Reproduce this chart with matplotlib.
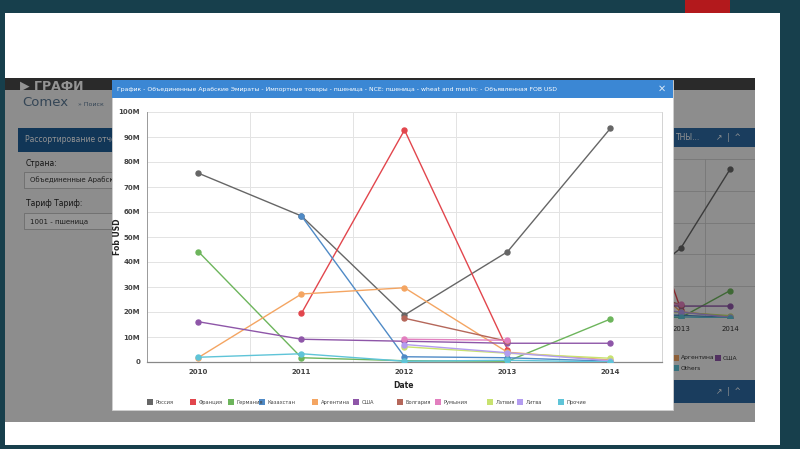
import matplotlib
matplotlib.use('Agg')
import matplotlib.pyplot as plt
from matplotlib.patches import Rectangle
import numpy as np

plt.rcParams['font.family'] = ['DejaVu Sans']

# data (values in millions of USD, nan = no data)
years = [2010, 2011, 2012, 2013, 2014]
countries = ['Россия', 'Франция', 'Германия', 'Казахстан', 'Аргентина', 'США',
             'Болгария', 'Румыния', 'Латвия', 'Литва', 'Прочие']
russia = [75.5, 58.4, 18.8, 44.1, 93.5]
france = [np.nan, 19.5, 92.8, 5.0, np.nan]
germany = [44.1, 1.7, 0.5, 0.3, 17.2]
kazakhstan = [np.nan, 58.4, 2.1, 1.7, 0.3]
argentina = [1.8, 27.2, 29.7, 3.9, 0.8]
usa = [16.1, 9.1, 8.3, 7.5, 7.5]
bulgaria = [np.nan, np.nan, 17.5, 8.3, np.nan]
romania = [np.nan, np.nan, 9.1, 8.7, np.nan]
latvia = [np.nan, np.nan, 6.1, 3.5, 1.5]
lithuania = [np.nan, np.nan, 7.0, 3.7, 0.5]
others = [1.9, 3.3, 0.3, 0.7, 0.0]
series = [russia, france, germany, kazakhstan, argentina, usa,
          bulgaria, romania, latvia, lithuania, others]
colors = ['#666666', '#e2464d', '#6db55c', '#4f8ac6', '#f4a562', '#8e56a8',
          '#b5675a', '#e27fbf', '#c8e26f', '#b39cf0', '#5fc4d8']

W, H = 800, 449
fig = plt.figure(figsize=(8, 4.49), dpi=100)
fig.patch.set_facecolor('#173f4c')


def box(x, y, w, h, z, **kw):
    # rectangle given in pixel coords from the top left
    r = Rectangle((x / W, 1 - (y + h) / H), w / W, h / H,
                  transform=fig.transFigure, zorder=z, **kw)
    fig.add_artist(r)
    return r


def txt(x, y, s, z=5, **kw):
    return fig.text(x / W, 1 - y / H, s, zorder=z, **kw)


def axes_px(x0, y0, x1, y1):
    return [x0 / W, 1 - y1 / H, (x1 - x0) / W, (y1 - y0) / H]


# slide
box(5, 13, 775, 432, -5, facecolor='white', edgecolor='none')
box(685, 0, 45, 13, -5, facecolor='#b3191c', edgecolor='none')

# web app screenshot behind the dialog (dimmed by an overlay)
box(5, 78, 750, 344, -4, facecolor='#f3f3f3', edgecolor='none')
box(5, 78, 750, 12, -3, facecolor='#4a4a4a', edgecolor='none')
txt(20, 86, '▶ ГРАФИ', z=-2, color='white', fontsize=9, fontweight='bold', va='center')
txt(22, 103, 'Comex', z=-2, color='#5a7894', fontsize=9.5, va='center')
txt(78, 104, '» Поиск', z=-2, color='#5a7894', fontsize=4.5, va='center')
box(18, 128, 100, 24, -3, facecolor='#1e5d97', edgecolor='none')
txt(25, 140, 'Рассортирование отчет', z=-2, color='white', fontsize=5.5, va='center')
txt(26, 163, 'Страна:', z=-2, color='#222222', fontsize=5.5, va='center')
box(24, 172, 93, 16, -3, facecolor='white', edgecolor='#bbbbbb', linewidth=0.6)
txt(30, 180, 'Объединенные Арабские Эмираты', z=-2, color='#333333', fontsize=5, va='center')
txt(26, 204, 'Тариф Тариф:', z=-2, color='#222222', fontsize=5.5, va='center')
box(24, 213, 93, 16, -3, facecolor='white', edgecolor='#bbbbbb', linewidth=0.6)
txt(30, 221, '1001 - пшеница', z=-2, color='#333333', fontsize=5, va='center')
box(500, 128, 255, 19, -3, facecolor='#2d6aa3', edgecolor='none')
txt(676, 138, 'ТНЫ...', z=-2, color='white', fontsize=5.5, va='center')
txt(716, 138, '↗  |  ^', z=-2, color='white', fontsize=5.5, va='center')
box(500, 380, 255, 23, -3, facecolor='#2d6aa3', edgecolor='none')
txt(716, 391, '↗  |  ^', z=-2, color='white', fontsize=5.5, va='center')

bg = fig.add_axes(axes_px(509.5, 159, 754.5, 318))
bg.set_zorder(-2)
bg.set_facecolor('#f3f3f3')
for vals, c in zip(series, colors):
    bg.plot(years, vals, color=c, linewidth=1.0, marker='o', markersize=3.5)
bg.set_xlim(2009.5, 2014.5)
bg.set_ylim(0, 100)
bg.set_xticks(years)
bg.set_xticklabels([str(y) for y in years], fontsize=5, color='#333333')
bg.set_xticks([2010.5, 2011.5, 2012.5, 2013.5], minor=True)
bg.set_yticks(range(0, 101, 20))
bg.tick_params(length=0, which='both', pad=6)
bg.set_yticklabels([])
bg.grid(True, which='minor', axis='x', color='#cccccc', linewidth=0.6)
bg.grid(True, which='major', axis='y', color='#cccccc', linewidth=0.6)
for s in bg.spines.values():
    s.set_visible(False)
for i, (lab, c) in enumerate(zip(['Аргентина', 'США', 'Others'], ['#f4a562', '#8e56a8', '#5fc4d8'])):
    xx, yy = [(673, 358), (715, 358), (673, 368)][i]
    box(xx, yy - 3, 6, 6, -1, facecolor=c, edgecolor='none')
    txt(xx + 8, yy, lab, z=-1, color='#333333', fontsize=4.3, va='center')

# dim overlay
box(5, 78, 750, 344, 1, facecolor='black', edgecolor='none', alpha=0.42)

# dialog
box(112, 80, 561, 330, 2, facecolor='white', edgecolor='#d0d0d0', linewidth=0.6)
box(112, 80, 561, 18, 2.5, facecolor='#3b87d4', edgecolor='none')
txt(117, 89, 'График - Объединенные Арабские Эмираты - Импортные товары - пшеница - NCE: пшеница'
    ' - wheat and meslin: - Объявленная FOB USD',
    color='white', fontsize=4.4, va='center', family=['Liberation Sans Narrow', 'DejaVu Sans'])
txt(662, 89, '✕', color='#d6e6f7', fontsize=7, fontweight='bold', va='center', ha='center')

ax = fig.add_axes(axes_px(147, 112, 662, 362))
ax.set_zorder(3)
ax.set_facecolor('white')
for vals, c in zip(series, colors):
    ax.plot(years, vals, color=c, linewidth=1.0, marker='o', markersize=3.6, zorder=3)

ax.set_xlim(2009.5, 2014.5)
ax.set_ylim(0, 100)
ax.set_xticks(years)
ax.set_xticklabels([str(y) for y in years])
ax.set_xticks([2010.5, 2011.5, 2012.5, 2013.5], minor=True)
ax.set_yticks(range(0, 101, 10))
ax.set_yticklabels(['0'] + [f'{v}M' for v in range(10, 101, 10)])
ax.tick_params(axis='both', which='both', length=0, labelsize=5, labelcolor='#444444')
ax.tick_params(axis='y', pad=5)
ax.tick_params(axis='x', pad=5)
for lab in ax.get_xticklabels() + ax.get_yticklabels():
    lab.set_fontweight('bold')
ax.grid(True, which='minor', axis='x', color='#e3e3e3', linewidth=0.7)
ax.grid(True, which='major', axis='y', color='#e3e3e3', linewidth=0.7)
ax.set_axisbelow(True)
ax.spines['top'].set_visible(False)
ax.spines['right'].set_color('#cccccc')
ax.spines['right'].set_linewidth(0.6)
ax.spines['left'].set_color('#999999')
ax.spines['left'].set_linewidth(0.7)
ax.spines['bottom'].set_color('#888888')
ax.spines['bottom'].set_linewidth(0.9)

txt(117, 237, 'Fob USD', color='#222222', fontsize=5.5, fontweight='bold',
    rotation=90, va='center', ha='center')
txt(404, 385, 'Date', color='#222222', fontsize=5.5, fontweight='bold',
    va='center', ha='center')

# legend
legend_x = [147, 190, 228, 259, 312, 353, 397, 435, 487, 517, 558]
for lx, lab, c in zip(legend_x, countries, colors):
    box(lx, 399, 6, 6, 5, facecolor=c, edgecolor='none')
    txt(lx + 8.5, 402.5, lab, color='#444444', fontsize=3.7, va='center',
        family=['Liberation Sans Narrow', 'DejaVu Sans'])

fig.savefig('out.png', dpi=100, facecolor=fig.get_facecolor())
